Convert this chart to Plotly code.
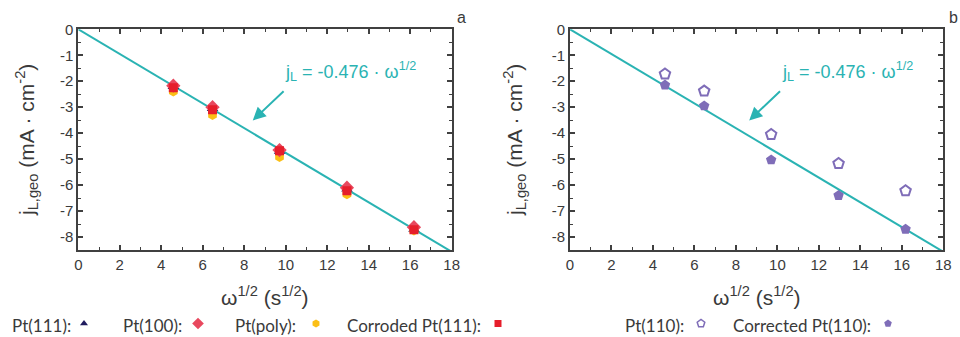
import plotly.graph_objects as go

# rotation rate square roots, omega^(1/2) in s^(1/2)
omega_sqrt = [4.58, 6.47, 9.70, 12.95, 16.18]

# limiting current densities (mA cm^-2), panel a
pt111 = [-2.20, -3.05, -4.70, -6.15, -7.70]
pt100 = [-2.17, -3.00, -4.65, -6.10, -7.62]
pt_poly = [-2.40, -3.30, -4.92, -6.35, -7.75]
corroded_pt111 = [-2.25, -3.10, -4.68, -6.22, -7.72]

# panel b
pt110 = [-1.72, -2.38, -4.05, -5.17, -6.22]
corrected_pt110 = [-2.15, -2.95, -5.03, -6.40, -7.70]

# Levich fit
slope = -0.476
fit_x = [0, 18]
fit_y = [slope * v for v in fit_x]

x_ticks = [0, 2, 4, 6, 8, 10, 12, 14, 16, 18]
y_ticks = [0, -1, -2, -3, -4, -5, -6, -7, -8]
y_tick_text = ["0", "-1", "-2", "-3", "-4", "-5", "-6", "-7", "-8"]

TEAL = "#2ab3b3"
NAVY = "#1f1b5e"
PINK = "#e8485e"
GOLD = "#fbbf16"
RED = "#e61e2b"
PURPLE = "#7f6db8"
FRAME = "#404040"
TEXT = "#3a3a3a"

fig = go.Figure()

def add_fit(xa, ya):
    fig.add_trace(go.Scatter(x=fit_x, y=fit_y, mode="lines",
                             line=dict(color=TEAL, width=2),
                             xaxis=xa, yaxis=ya, showlegend=False, hoverinfo="skip"))

def add_series(x, y, symbol, color, size, xa, ya, line_width=0):
    fig.add_trace(go.Scatter(x=x, y=y, mode="markers",
                             marker=dict(symbol=symbol, color=color, size=size,
                                         line=dict(color=color, width=line_width)),
                             xaxis=xa, yaxis=ya, showlegend=False))

# panel a
add_fit("x", "y")
add_series(omega_sqrt, pt111, "triangle-up", NAVY, 10, "x", "y")
add_series(omega_sqrt, pt_poly, "hexagon", GOLD, 10, "x", "y")
add_series(omega_sqrt, pt100, "diamond", PINK, 11, "x", "y")
add_series(omega_sqrt, corroded_pt111, "square", RED, 9, "x", "y")

# panel b
add_fit("x2", "y2")
add_series(omega_sqrt, pt110, "pentagon-open", PURPLE, 11, "x2", "y2", line_width=2)
add_series(omega_sqrt, corrected_pt110, "pentagon", PURPLE, 11, "x2", "y2")

# legend row: label, text left edge (px), symbol centre (px), symbol, colour, size
legend_items = [
    ("Pt(111):", 10, 84, "triangle-up", NAVY, 7),
    ("Pt(100):", 121, 198, "diamond", PINK, 9),
    ("Pt(poly):", 233, 316, "hexagon", GOLD, 8),
    ("Corroded Pt(111):", 345, 498, "square", RED, 7),
    ("Pt(110):", 623, 701, "pentagon-open", PURPLE, 8),
    ("Corrected Pt(110):", 731, 888, "pentagon", PURPLE, 8),
]
for label, tx, mx, sym, col, sz in legend_items:
    fig.add_trace(go.Scatter(x=[mx], y=[0.5], mode="markers",
                             marker=dict(symbol=sym, color=col, size=sz,
                                         line=dict(color=col, width=1.5 if "open" in sym else 0)),
                             xaxis="x3", yaxis="y3", showlegend=False, hoverinfo="skip"))

W, H = 960, 337
px_x = lambda p: p / W
px_y = lambda p: 1 - p / H

BASE_FONT = "Liberation Sans, Arial, sans-serif"

axis_common = dict(
    showline=True, linecolor=FRAME, linewidth=2, mirror="allticks",
    ticks="inside", ticklen=5, tickwidth=1.5, tickcolor=FRAME,
    showgrid=False, zeroline=False, automargin=False,
    tickfont=dict(family=BASE_FONT, size=15, color=TEXT),
)
x_common = dict(axis_common, range=[0, 18], tickvals=x_ticks,
                minor=dict(dtick=1, ticks="inside", ticklen=3, tickwidth=1.2, tickcolor=FRAME))
y_common = dict(axis_common, range=[-8.5, 0], tickvals=y_ticks, ticktext=y_tick_text,
                minor=dict(dtick=0.5, ticks="inside", ticklen=3, tickwidth=1.2, tickcolor=FRAME))

fig.update_layout(
    width=W, height=H, autosize=False,
    margin=dict(l=0, r=0, t=0, b=0, pad=0, autoexpand=False),
    paper_bgcolor="white", plot_bgcolor="white",
    xaxis=dict(x_common, domain=[px_x(78.3), px_x(451.7)], anchor="y"),
    yaxis=dict(y_common, domain=[px_y(250), px_y(29.3)], anchor="x"),
    xaxis2=dict(x_common, domain=[px_x(570), px_x(943.3)], anchor="y2"),
    yaxis2=dict(y_common, domain=[px_y(250), px_y(29.3)], anchor="x2"),
    xaxis3=dict(domain=[0, 1], range=[0, W], visible=False, anchor="y3", fixedrange=True),
    yaxis3=dict(domain=[px_y(337), px_y(310)], range=[0, 1], visible=False, anchor="x3", fixedrange=True),
    showlegend=False,
)

title_font = dict(family=BASE_FONT, size=21, color=TEXT)
eq_font = dict(family=BASE_FONT, size=18, color=TEAL)
leg_font = dict(family="Lato, sans-serif", size=17, color=TEXT)

annotations = []
for cx, ycx in [(265, 26), (756.7, 514)]:
    annotations.append(dict(text="ω<sup>1/2</sup> (s<sup>1/2</sup>)", xref="paper", yref="paper",
                            x=px_x(cx), y=px_y(296), xanchor="center", yanchor="middle",
                            showarrow=False, font=title_font))
    annotations.append(dict(text="j<sub>L,geo</sub> (mA · cm<sup>-2</sup>)", xref="paper", yref="paper",
                            x=px_x(ycx), y=px_y(140), xanchor="center", yanchor="middle",
                            textangle=-90, showarrow=False, font=title_font))

eq_text = "j<sub>L</sub> = -0.476 · ω<sup>1/2</sup>"
for xr, yr, tx, head, tail in [("x", "y", 13.1, (8.41, -3.51), (9.97, -2.33)),
                               ("x2", "y2", 13.36, (8.64, -3.51), (10.2, -2.33))]:
    annotations.append(dict(text=eq_text, xref=xr, yref=yr, x=tx, y=-1.63,
                            xanchor="center", yanchor="middle", showarrow=False, font=eq_font))
    annotations.append(dict(text="", xref=xr, yref=yr, x=head[0], y=head[1],
                            axref=xr, ayref=yr, ax=tail[0], ay=tail[1],
                            showarrow=True, arrowhead=2, arrowsize=1.3, arrowwidth=2,
                            arrowcolor=TEAL))

for lab, px in [("a", 461), ("b", 953)]:
    annotations.append(dict(text=lab, xref="paper", yref="paper", x=px_x(px), y=px_y(18),
                            xanchor="center", yanchor="middle", showarrow=False,
                            font=dict(family=BASE_FONT, size=16, color=TEXT)))

for label, tx, mx, sym, col, sz in legend_items:
    annotations.append(dict(text=label, xref="paper", yref="paper", x=px_x(tx), y=px_y(325),
                            xanchor="left", yanchor="middle", showarrow=False, font=leg_font))

fig.update_layout(annotations=annotations)

fig.write_html("out.html")
